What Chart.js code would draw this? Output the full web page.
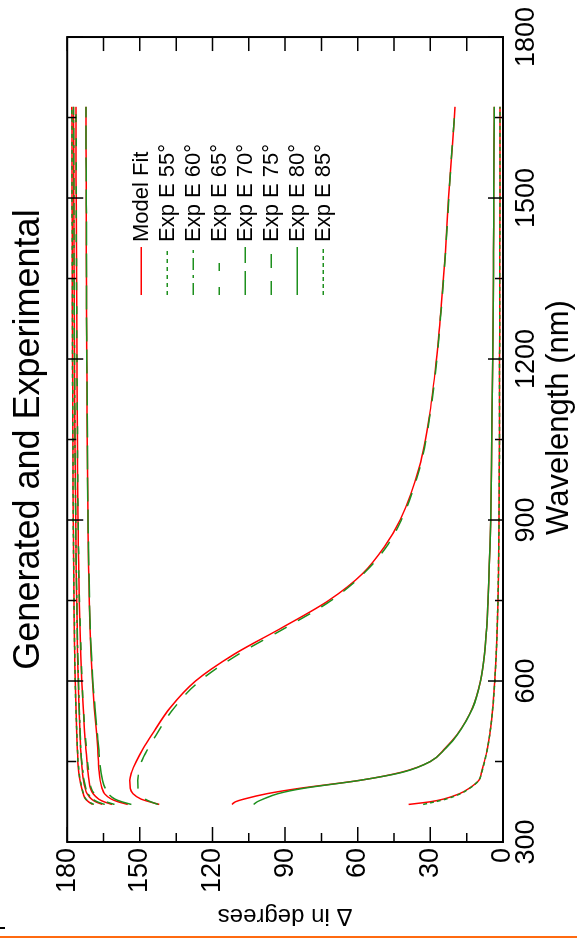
<!DOCTYPE html>
<html>
<head>
<meta charset="utf-8">
<script src="https://cdn.jsdelivr.net/npm/chart.js@4.4.1/dist/chart.umd.min.js"></script>
<style>
  html, body { margin: 0; padding: 0; background: #fff; overflow: hidden; }
  body { width: 577px; height: 939px; position: relative; }
  #wrap { position: absolute; left: 0; top: 0; width: 939px; height: 577px;
          transform-origin: 0 0; transform: translate(0, 939px) rotate(-90deg); }
  #bar { position: absolute; left: 0; top: 936px; width: 577px; height: 2px; background: #ff6a10; }
  #mark { position: absolute; left: 0; top: 927px; width: 5px; height: 2px; background: #000; }
</style>
</head>
<body>
<div id="wrap"><canvas id="grafico" width="939" height="577"></canvas></div>
<div id="mark"></div>
<div id="bar"></div>
<script>
// wavelength (nm) shared by every curve
const wavelengths = [370, 375, 380, 390, 400, 415, 430, 450, 475, 500, 550, 600, 650, 700, 750, 800, 850, 900, 1000, 1100, 1200, 1300, 1400, 1500, 1600, 1670];

const xTicks = [300, 600, 900, 1200, 1500, 1800];
const yTicks = [0, 30, 60, 90, 120, 150, 180];
const angles = [55, 60, 65, 70, 75, 80, 85];

// model fit, delta in degrees
const model55 = [169.5, 171.2, 172.4, 173.4, 174.0, 174.7, 175.2, 175.6, 175.9, 176.1, 176.4, 176.7, 176.9, 177.1, 177.2, 177.3, 177.4, 177.5, 177.6, 177.7, 177.8, 177.9, 177.9, 178.0, 178.0, 178.1];
const model60 = [165.5, 168.3, 170.0, 171.8, 172.6, 173.3, 173.7, 174.1, 174.5, 174.7, 175.1, 175.4, 175.7, 175.9, 176.1, 176.3, 176.4, 176.5, 176.7, 176.9, 177.0, 177.1, 177.2, 177.3, 177.3, 177.4];
const model65 = [161.5, 164.8, 167.0, 169.3, 170.4, 171.0, 171.4, 171.8, 172.3, 172.8, 173.4, 174.0, 174.4, 174.7, 175.0, 175.2, 175.4, 175.5, 175.7, 175.9, 176.0, 176.1, 176.2, 176.3, 176.4, 176.4];
const model70 = [155.0, 159.0, 161.8, 164.6, 165.6, 166.4, 166.8, 167.1, 167.4, 167.8, 168.8, 169.6, 170.2, 170.6, 170.9, 171.1, 171.3, 171.4, 171.6, 171.8, 171.9, 172.0, 172.1, 172.1, 172.2, 172.2];
const model75 = [142.0, 146.0, 149.5, 152.8, 154.0, 154.2, 153.4, 151.5, 148.5, 145.0, 137.5, 127.0, 111.0, 91.0, 72.0, 58.0, 49.0, 42.5, 34.5, 30.2, 27.5, 25.5, 23.8, 22.5, 20.9, 19.8];
const model80 = [112.0, 110.5, 107.0, 97.5, 84.0, 59.0, 42.0, 30.0, 23.8, 19.0, 12.6, 9.3, 7.6, 6.7, 6.2, 5.8, 5.4, 5.1, 4.8, 4.5, 4.2, 4.0, 3.9, 3.8, 3.7, 3.6];
const model85 = [39.0, 30.0, 24.5, 18.0, 14.0, 10.0, 8.9, 7.7, 6.4, 5.5, 4.2, 3.4, 2.8, 2.4, 2.1, 1.9, 1.75, 1.65, 1.5, 1.45, 1.4, 1.35, 1.3, 1.25, 1.2, 1.2];

// experimental E data
const exp55 = [169.0, 171.0, 172.3, 173.3, 173.9, 174.6, 175.1, 175.5, 175.8, 176.0, 176.4, 176.7, 176.9, 177.0, 177.2, 177.3, 177.4, 177.5, 177.6, 177.7, 177.8, 177.8, 177.9, 178.0, 178.0, 178.1];
const exp60 = [164.5, 167.6, 169.5, 171.4, 172.3, 173.1, 173.5, 174.0, 174.4, 174.6, 175.0, 175.3, 175.6, 175.9, 176.0, 176.2, 176.4, 176.5, 176.7, 176.8, 177.0, 177.1, 177.2, 177.2, 177.3, 177.4];
const exp65 = [160.5, 164.0, 166.3, 168.8, 170.0, 170.7, 171.1, 171.6, 172.1, 172.6, 173.3, 173.9, 174.3, 174.6, 174.9, 175.2, 175.3, 175.5, 175.7, 175.8, 176.0, 176.1, 176.2, 176.3, 176.3, 176.4];
const exp70 = [153.5, 157.5, 160.3, 163.0, 164.3, 165.4, 166.0, 166.6, 167.0, 167.5, 168.5, 169.4, 170.0, 170.5, 170.8, 171.0, 171.2, 171.4, 171.6, 171.7, 171.9, 172.0, 172.0, 172.1, 172.2, 172.2];
const exp75 = [142.5, 145.5, 147.8, 150.0, 150.8, 150.9, 150.4, 149.3, 146.5, 143.2, 135.8, 125.3, 109.2, 89.5, 71.0, 57.6, 48.2, 42.0, 34.2, 30.0, 27.3, 25.4, 23.7, 22.4, 20.9, 19.8];
const exp80 = [103.0, 101.5, 99.0, 93.0, 82.5, 59.0, 41.5, 30.0, 23.6, 18.8, 12.5, 9.3, 7.6, 6.7, 6.2, 5.8, 5.4, 5.1, 4.8, 4.5, 4.2, 4.0, 3.9, 3.8, 3.7, 3.6];
const exp85 = [33.0, 28.0, 23.5, 17.6, 13.8, 10.0, 8.8, 7.6, 6.4, 5.5, 4.2, 3.4, 2.8, 2.4, 2.1, 1.9, 1.75, 1.65, 1.5, 1.45, 1.4, 1.35, 1.3, 1.25, 1.2, 1.2];

const modelSeries = [model55, model60, model65, model70, model75, model80, model85];
const expSeries = [exp55, exp60, exp65, exp70, exp75, exp80, exp85];
const expDashes = [[4, 4], [12, 5, 3, 5], [8, 16], [24, 8], [14, 13], [], [4, 3]];

const fonte = '"Liberation Sans", Arial, sans-serif';
const vermelho = "#ff0000";
const verde = "#1e901e";

function pontos(valores) {
  return wavelengths.map((w, i) => ({ x: w, y: valores[i] }));
}

const datasets = [];
modelSeries.forEach((serie, i) => {
  datasets.push({
    label: "Model Fit",
    data: pontos(serie),
    borderColor: vermelho,
    borderWidth: 1.5,
    showInLegend: i === 0,
    order: 1,
  });
});
expSeries.forEach((serie, i) => {
  datasets.push({
    label: `Exp E ${angles[i]}°`,
    data: pontos(serie),
    borderColor: verde,
    borderWidth: 1.5,
    borderDash: expDashes[i],
    showInLegend: true,
    order: 0,
  });
});

// moldura com marcas para dentro nos quatro lados + título do eixo x
const molduraPlugin = {
  id: "moldura",
  afterDatasetsDraw(chart) {
    const { ctx, chartArea: a, scales: { x, y } } = chart;
    ctx.save();
    ctx.strokeStyle = "#000";
    ctx.lineWidth = 1.5;
    ctx.beginPath();
    for (let w = 300; w <= 1800; w += 150) {
      const px = x.getPixelForValue(w);
      const major = w % 300 === 0;
      ctx.moveTo(px, a.bottom);
      ctx.lineTo(px, a.bottom - (major ? 15 : 8));
      ctx.moveTo(px, a.top);
      ctx.lineTo(px, a.top + (major ? 16 : 9));
    }
    for (let d = 0; d <= 180; d += 15) {
      const py = y.getPixelForValue(d);
      const major = d % 30 === 0;
      ctx.moveTo(a.left, py);
      ctx.lineTo(a.left + (major ? 15 : 9), py);
      ctx.moveTo(a.right, py);
      ctx.lineTo(a.right - 14, py);
    }
    ctx.stroke();
    ctx.lineWidth = 2;
    ctx.strokeRect(a.left, a.top, a.right - a.left, a.bottom - a.top);

    // título do eixo x, um pouco deslocado do centro como no original
    ctx.fillStyle = "#000";
    ctx.font = `31px ${fonte}`;
    ctx.textAlign = "center";
    ctx.textBaseline = "middle";
    ctx.fillText("Wavelength (nm)", (a.left + a.right) / 2 + 22, 559);
    ctx.restore();
  },
};

// legenda dentro da área do gráfico
const legendaPlugin = {
  id: "legendaInterna",
  afterDatasetsDraw(chart) {
    const { ctx, chartArea: a } = chart;
    const itens = chart.data.datasets.filter((ds) => ds.showInLegend);
    ctx.save();
    ctx.font = `22px ${fonte}`;
    ctx.textBaseline = "middle";
    ctx.fillStyle = "#000";
    itens.forEach((ds, i) => {
      const yy = a.top + 74 + i * 26;
      const x0 = a.left + 547;
      ctx.strokeStyle = ds.borderColor;
      ctx.lineWidth = 1.5;
      ctx.setLineDash(ds.borderDash || []);
      ctx.beginPath();
      ctx.moveTo(x0, yy);
      ctx.lineTo(x0 + 48, yy);
      ctx.stroke();
      ctx.setLineDash([]);
      ctx.fillText(ds.label, x0 + 53, yy + 1);
    });
    ctx.restore();
  },
};

new Chart(document.getElementById("grafico"), {
  type: "line",
  data: { datasets },
  options: {
    responsive: false,
    animation: false,
    events: [],
    layout: { padding: { left: 0, right: 35, top: 0, bottom: 0 } },
    elements: {
      point: { radius: 0 },
      line: { cubicInterpolationMode: "monotone", fill: false },
    },
    plugins: {
      legend: { display: false },
      tooltip: { enabled: false },
      title: {
        display: true,
        text: "Generated and Experimental",
        color: "#000",
        fullSize: false,
        font: { family: fonte, size: 36, weight: "normal", lineHeight: 1.2 },
        padding: { top: 7, bottom: 17 },
      },
    },
    scales: {
      x: {
        type: "linear",
        min: 300,
        max: 1800,
        afterBuildTicks: (scale) => {
          scale.ticks = xTicks.map((v) => ({ value: v }));
        },
        afterFit: (scale) => {
          scale.height = 74;
        },
        grid: { display: false, drawTicks: false },
        border: { display: false },
        ticks: {
          color: "#000",
          padding: 7,
          maxRotation: 0,
          font: { family: fonte, size: 27 },
          callback: (v) => String(v),
        },
      },
      y: {
        type: "linear",
        min: 0,
        max: 180,
        afterBuildTicks: (scale) => {
          scale.ticks = yTicks.map((v) => ({ value: v }));
        },
        afterFit: (scale) => {
          scale.width = 97;
        },
        grid: { display: false, drawTicks: false },
        border: { display: false },
        ticks: {
          color: "#000",
          padding: 6,
          font: { family: fonte, size: 27 },
          callback: (v) => String(v),
        },
        title: {
          display: true,
          text: "Δ in degrees",
          color: "#000",
          font: { family: fonte, size: 24 },
          padding: { top: 9, bottom: 0 },
        },
      },
    },
  },
  plugins: [molduraPlugin, legendaPlugin],
});
</script>
</body>
</html>
